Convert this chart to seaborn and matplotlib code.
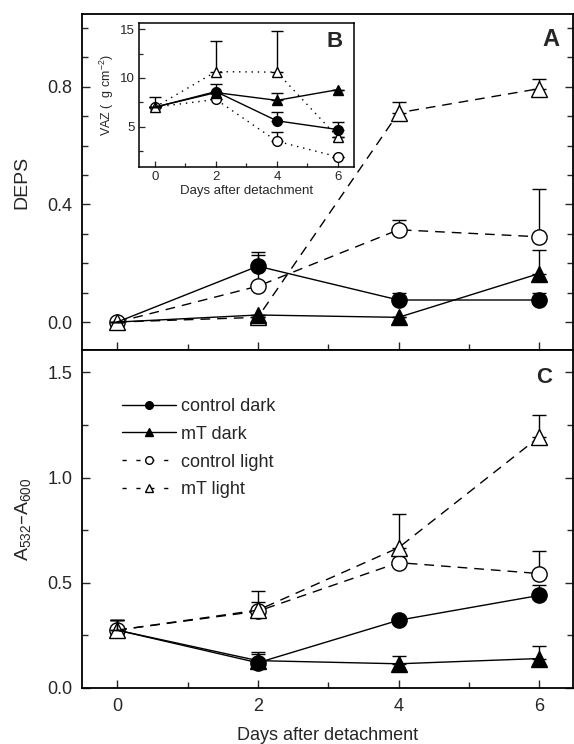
import matplotlib
matplotlib.use("Agg")
import matplotlib.pyplot as plt
from matplotlib.lines import Line2D
from matplotlib.ticker import MultipleLocator
import seaborn as sns
import numpy as np

# ---------------- data ----------------
days = [0, 2, 4, 6]

# Panel A: DEPS
deps_ctrl_dark = [0.0, 0.19, 0.075, 0.075]
deps_ctrl_dark_err = [0.0, 0.048, 0.025, 0.025]
deps_mt_dark = [0.0, 0.024, 0.016, 0.165]
deps_mt_dark_err = [0.0, 0.0, 0.0, 0.08]
deps_ctrl_light = [0.0, 0.122, 0.314, 0.29]
deps_ctrl_light_err = [0.0, 0.105, 0.034, 0.163]
deps_mt_light = [0.0, 0.016, 0.712, 0.794]
deps_mt_light_err = [0.0, 0.0, 0.035, 0.034]

# Panel B (inset): VAZ
vaz_ctrl_dark = [7.0, 8.6, 5.6, 4.7]
vaz_ctrl_dark_err = [1.0, 0.8, 0.9, 0.8]
vaz_mt_dark = [7.0, 8.5, 7.7, 8.8]
vaz_mt_dark_err = [0.0, 0.0, 0.8, 0.0]
vaz_ctrl_light = [7.0, 7.8, 3.5, 1.9]
vaz_ctrl_light_err = [0.0, 0.0, 0.9, 0.0]
vaz_mt_light = [7.0, 10.65, 10.6, 3.9]
vaz_mt_light_err = [0.0, 3.15, 4.25, 0.0]

# Panel C: A532-A600
abs_ctrl_dark = [0.275, 0.12, 0.322, 0.44]
abs_ctrl_dark_err = [0.05, 0.04, 0.0, 0.048]
abs_mt_dark = [0.275, 0.13, 0.115, 0.14]
abs_mt_dark_err = [0.05, 0.04, 0.038, 0.058]
abs_ctrl_light = [0.275, 0.365, 0.596, 0.544]
abs_ctrl_light_err = [0.05, 0.045, 0.0, 0.106]
abs_mt_light = [0.275, 0.37, 0.667, 1.194]
abs_mt_light_err = [0.05, 0.09, 0.158, 0.103]

labels = ["control dark", "mT dark", "control light", "mT light"]

# ---------------- style ----------------
sns.set_style("ticks")
plt.rcParams["font.family"] = ["Liberation Sans", "DejaVu Sans"]
plt.rcParams["mathtext.default"] = "regular"

fig = plt.figure(figsize=(5.74, 7.44), dpi=100)
axA = fig.add_axes([0.1429, 0.5296, 0.8554, 0.4516])
axC = fig.add_axes([0.1429, 0.0753, 0.8554, 0.4543])
axB = fig.add_axes([0.2422, 0.7755, 0.3746, 0.1936])

DASH = (0, (7, 5))
DOT = (0, (1, 3.5))


def draw_series(ax, y, err, marker, filled, ls, ms, lw=1.0, capsize=5, z=3,
                markevery=None):
    sns.lineplot(x=days, y=y, ax=ax, color="black", linestyle=ls, lw=lw,
                 marker=marker, markersize=ms, markevery=markevery,
                 markerfacecolor="black" if filled else "white",
                 markeredgecolor="black", markeredgewidth=1.0,
                 zorder=z, legend=False)
    err = np.asarray(err)
    if err.any():
        ax.errorbar(days, y, yerr=[np.zeros_like(err), err], fmt="none",
                    ecolor="black", elinewidth=1.0, capsize=capsize,
                    capthick=1.0, zorder=z - 1)


def style_axes(ax, lw=1.3):
    for s in ax.spines.values():
        s.set_visible(True)
        s.set_linewidth(lw)
        s.set_color("black")


DARK_EVERY = [1, 2, 3]

# ---- Panel A ----
draw_series(axA, deps_ctrl_light, deps_ctrl_light_err, "o", False, DASH, 11)
draw_series(axA, deps_mt_light, deps_mt_light_err, "^", False, DASH, 11)
draw_series(axA, deps_mt_dark, deps_mt_dark_err, "^", True, "-", 11, z=4,
            markevery=DARK_EVERY)
draw_series(axA, deps_ctrl_dark, deps_ctrl_dark_err, "o", True, "-", 11, z=4,
            markevery=DARK_EVERY)
axA.set_xlim(-0.5, 6.48)
axA.set_ylim(-0.095, 1.048)
axA.yaxis.set_major_locator(MultipleLocator(0.4))
axA.yaxis.set_minor_locator(MultipleLocator(0.1))
axA.yaxis.set_major_formatter(matplotlib.ticker.FormatStrFormatter("%.1f"))
axA.xaxis.set_major_locator(MultipleLocator(2))
axA.xaxis.set_minor_locator(MultipleLocator(1))
axA.tick_params(axis="both", which="both", direction="in", left=True,
                right=True, bottom=True, top=False, labelbottom=False,
                labelsize=13, pad=7, width=1.0)
axA.tick_params(which="major", length=6)
axA.tick_params(which="minor", length=4)
axA.set_ylabel("DEPS", fontsize=14, labelpad=12)
axA.set_xlabel("")
style_axes(axA)
axA.text(0.955, 0.925, "A", transform=axA.transAxes, fontsize=17,
         fontweight="bold", ha="center", va="center")

# ---- Panel C ----
draw_series(axC, abs_ctrl_light, abs_ctrl_light_err, "o", False, DASH, 11)
draw_series(axC, abs_mt_light, abs_mt_light_err, "^", False, DASH, 11)
draw_series(axC, abs_mt_dark, abs_mt_dark_err, "^", True, "-", 11, z=4,
            markevery=DARK_EVERY)
draw_series(axC, abs_ctrl_dark, abs_ctrl_dark_err, "o", True, "-", 11, z=4,
            markevery=DARK_EVERY)
axC.set_xlim(-0.5, 6.48)
axC.set_ylim(0, 1.607)
axC.yaxis.set_major_locator(MultipleLocator(0.5))
axC.yaxis.set_minor_locator(MultipleLocator(0.25))
axC.yaxis.set_major_formatter(matplotlib.ticker.FormatStrFormatter("%.1f"))
axC.xaxis.set_major_locator(MultipleLocator(2))
axC.xaxis.set_minor_locator(MultipleLocator(1))
axC.tick_params(axis="both", which="both", direction="in", left=True,
                right=True, bottom=True, top=False, labelsize=13, pad=7,
                width=1.0)
axC.tick_params(which="major", length=6)
axC.tick_params(which="minor", length=4)
axC.set_ylabel("A$_{532}$\u2013A$_{600}$", fontsize=14, labelpad=10)
axC.set_xlabel("Days after detachment", fontsize=13, labelpad=9)
style_axes(axC)
axC.text(0.942, 0.92, "C", transform=axC.transAxes, fontsize=16,
         fontweight="bold", ha="center", va="center")

LEG_DASH = (0, (3, 7))
handles = [
    Line2D([], [], color="black", lw=1.0, ls="-", marker="o", ms=5.5,
           mfc="black", mec="black"),
    Line2D([], [], color="black", lw=1.0, ls="-", marker="^", ms=5.5,
           mfc="black", mec="black"),
    Line2D([], [], color="black", lw=1.0, ls=LEG_DASH, marker="o", ms=5.5,
           mfc="white", mec="black"),
    Line2D([], [], color="black", lw=1.0, ls=LEG_DASH, marker="^", ms=5.5,
           mfc="white", mec="black"),
]
axC.legend(handles, labels, loc="upper left", bbox_to_anchor=(0.082, 0.858),
           frameon=False, fontsize=13, handlelength=3.0, handletextpad=0.25,
           labelspacing=0.6, borderpad=0, borderaxespad=0)

# ---- Panel B (inset) ----
axB.set_facecolor("white")
draw_series(axB, vaz_ctrl_light, vaz_ctrl_light_err, "o", False, DOT, 7,
            capsize=4)
draw_series(axB, vaz_mt_light, vaz_mt_light_err, "^", False, DOT, 7,
            capsize=4)
draw_series(axB, vaz_mt_dark, vaz_mt_dark_err, "^", True, "-", 7,
            capsize=4, z=4, markevery=DARK_EVERY)
draw_series(axB, vaz_ctrl_dark, vaz_ctrl_dark_err, "o", True, "-", 7,
            capsize=4, z=4, markevery=DARK_EVERY)
axB.set_xlim(-0.52, 6.53)
axB.set_ylim(0.85, 15.65)
axB.yaxis.set_major_locator(MultipleLocator(5))
axB.yaxis.set_minor_locator(MultipleLocator(2.5))
axB.xaxis.set_major_locator(MultipleLocator(2))
axB.xaxis.set_minor_locator(MultipleLocator(1))
axB.tick_params(axis="both", which="both", direction="in", left=True,
                right=False, bottom=True, top=False, labelsize=9.5, pad=3,
                width=0.9)
axB.tick_params(which="major", length=4)
axB.tick_params(which="minor", length=3)
axB.set_ylabel("VAZ (  g cm$^{-2}$)", fontsize=9, labelpad=3)
axB.set_xlabel("Days after detachment", fontsize=9.5, labelpad=1)
style_axes(axB, lw=1.1)
axB.text(0.91, 0.87, "B", transform=axB.transAxes, fontsize=16,
         fontweight="bold", ha="center", va="center")

fig.savefig("out.png", dpi=100)
